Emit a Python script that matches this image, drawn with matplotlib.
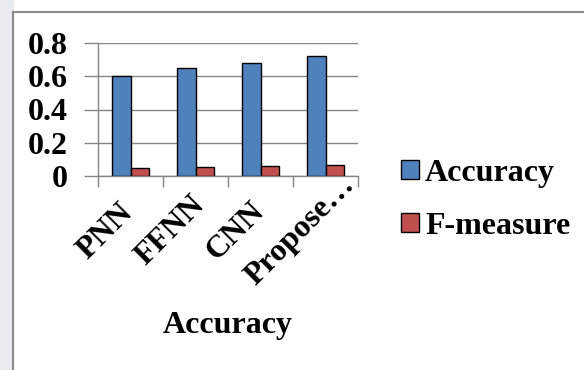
import matplotlib.pyplot as plt
import matplotlib.transforms as mtransforms
import numpy as np
from matplotlib.patches import Patch, Rectangle
from matplotlib.lines import Line2D

# data
methods = ["PNN", "FFNN", "CNN", "Propose…"]
accuracy = [0.60, 0.65, 0.68, 0.72]
f_measure = [0.05, 0.056, 0.06, 0.068]

plt.rcParams['font.family'] = ['Liberation Serif', 'DejaVu Serif']
plt.rcParams['font.weight'] = 'bold'
fs = 23

fig = plt.figure(figsize=(5.84, 3.70), dpi=100)
ax = fig.add_axes([98 / 584, 1 - 176 / 370, 260 / 584, 133 / 370])

x = np.arange(len(methods))
w = 0.29
ax.bar(x - w / 2, accuracy, w, color="#4F81BD", edgecolor="black", linewidth=1, label="Accuracy", zorder=3)
ax.bar(x + w / 2, f_measure, w, color="#C0504D", edgecolor="black", linewidth=1, label="F-measure", zorder=3)

ax.set_xlim(-0.5, 3.5)
ax.set_ylim(0, 0.8)
ax.set_yticks([0, 0.2, 0.4, 0.6, 0.8])
ax.set_yticklabels(["0", "0.2", "0.4", "0.6", "0.8"], fontsize=fs, fontweight="bold")
ax.grid(True, axis="y", color="#868686", linewidth=1, zorder=0)

# category labels, rotated like the excel chart
ax.set_xticks(np.arange(-0.5, 4, 1))
ax.set_xticklabels([])
ax.tick_params(axis="x", length=8, color="#868686", width=1)
ax.tick_params(axis="y", length=10, color="#868686", width=1, pad=12)
shift = mtransforms.ScaledTranslation(-25 / 100, -55 / 100, fig.dpi_scale_trans)
for i, m in enumerate(methods):
    ax.text(x[i], 0, m, transform=ax.get_xaxis_transform() + shift, fontsize=fs, fontweight="bold",
            rotation=45, ha="center", va="center", rotation_mode="anchor")

for s in ["top", "right"]:
    ax.spines[s].set_visible(False)
for s in ["left", "bottom"]:
    ax.spines[s].set_color("#868686")
    ax.spines[s].set_linewidth(1)

fig.text(228 / 584, 1 - 326 / 370, "Accuracy", fontsize=fs, fontweight="bold", ha="center", va="center")

handles = [Patch(facecolor="#4F81BD", edgecolor="black", label="Accuracy"),
           Patch(facecolor="#C0504D", edgecolor="black", label="F-measure")]
fig.legend(handles=handles, loc="center left", bbox_to_anchor=(401 / 584, 1 - 200 / 370),
           frameon=False, prop={"weight": "bold", "size": fs},
           handlelength=0.55, handleheight=0.55, handletextpad=0.2, labelspacing=0.75,
           borderpad=0, borderaxespad=0)

# page background strip and outer frame (top and left edges)
fig.add_artist(Rectangle((0, 0), 13 / 584, 1, transform=fig.transFigure, color="#E8EBF0", zorder=0))
fig.add_artist(Line2D([13 / 584, 1], [1 - 12 / 370] * 2, color="#8C8C8C", linewidth=1.5))
fig.add_artist(Line2D([13 / 584] * 2, [0, 1 - 12 / 370], color="#8C8C8C", linewidth=1.5))

fig.savefig("out.png", dpi=100)
